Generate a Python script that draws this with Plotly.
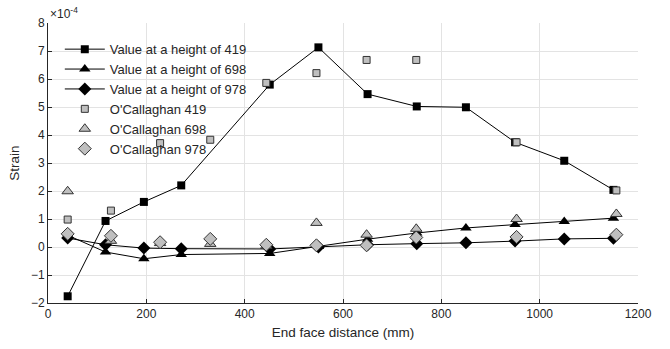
import plotly.graph_objects as go

# Model results (strain, in units of 1e-4)
x_model = [40, 117, 195, 271, 451, 550, 650, 750, 850, 950, 1050, 1150]
h419 = [-1.76, 0.93, 1.61, 2.20, 5.80, 7.13, 5.46, 5.02, 4.99, 3.74, 3.08, 2.04]
h698 = [0.42, -0.18, -0.42, -0.27, -0.23, 0.02, 0.28, 0.50, 0.68, 0.80, 0.91, 1.03]
h978 = [0.32, 0.08, -0.04, -0.06, -0.07, 0.00, 0.08, 0.12, 0.15, 0.21, 0.29, 0.31]

# O'Callaghan measurements
x_oc = [40, 128, 228, 330, 444, 546, 648, 749, 953, 1156]
oc419 = [0.98, 1.30, 3.71, 3.83, 5.86, 6.21, 6.68, 6.68, 3.74, 2.02]
oc698 = [1.99, 0.22, 0.14, 0.11, 0.04, 0.86, 0.44, 0.65, 1.00, 1.18]
oc978 = [0.47, 0.40, 0.17, 0.29, 0.08, 0.06, 0.06, 0.34, 0.36, 0.44]

x_ticks = [0, 200, 400, 600, 800, 1000, 1200]
y_ticks = [-2, -1, 0, 1, 2, 3, 4, 5, 6, 7, 8]

FONT = "Arial"
TXT = "#262626"

fig = go.Figure()
line_style = dict(color="black", width=1)
fig.add_trace(go.Scatter(x=x_model, y=h419, mode="lines+markers", name="Value at a height of 419",
                         line=line_style, marker=dict(symbol="square", size=8, color="black")))
fig.add_trace(go.Scatter(x=x_model, y=h698, mode="lines+markers", name="Value at a height of 698",
                         line=line_style, marker=dict(symbol="triangle-up", size=10, color="black")))
fig.add_trace(go.Scatter(x=x_model, y=h978, mode="lines+markers", name="Value at a height of 978",
                         line=line_style, marker=dict(symbol="diamond", size=10, color="black")))
grey = dict(color="#bfbfbf", line=dict(color="#333333", width=1))
fig.add_trace(go.Scatter(x=x_oc, y=oc419, mode="markers", name="O'Callaghan 419",
                         marker=dict(symbol="square", size=7, **grey)))
fig.add_trace(go.Scatter(x=x_oc, y=oc698, mode="markers", name="O'Callaghan 698",
                         marker=dict(symbol="triangle-up", size=10, **grey)))
fig.add_trace(go.Scatter(x=x_oc, y=oc978, mode="markers", name="O'Callaghan 978",
                         marker=dict(symbol="diamond", size=10, **grey)))

axis_common = dict(showgrid=True, gridcolor="#e3e3e3", gridwidth=1, zeroline=False,
                   showline=True, linecolor=TXT, linewidth=1, ticks="inside", ticklen=4,
                   tickcolor=TXT, tickfont=dict(family=FONT, size=12, color=TXT), mirror=False)

fig.update_layout(
    width=670, height=349,
    margin=dict(l=48, r=32, t=23, b=46),
    plot_bgcolor="white", paper_bgcolor="white",
    font=dict(family=FONT, size=12, color=TXT),
    xaxis=dict(range=[0, 1200], tickvals=x_ticks, title=dict(text="End face distance (mm)",
               font=dict(size=13.5, family=FONT, color=TXT), standoff=7), **axis_common),
    yaxis=dict(range=[-2, 8], tickvals=y_ticks, title=dict(text="Strain",
               font=dict(size=13.5, family=FONT, color=TXT), standoff=8), **axis_common),
    legend=dict(x=0.02, y=0.96, xanchor="left", yanchor="top", bgcolor="rgba(255,255,255,0)",
                font=dict(family=FONT, size=13, color=TXT), itemwidth=40, tracegroupgap=0),
    showlegend=True,
)
fig.add_annotation(text="\u00d710<sup>-4</sup>", xref="paper", yref="paper", x=0, y=1,
                   xanchor="left", yanchor="bottom", showarrow=False,
                   font=dict(family=FONT, size=12, color=TXT))

fig.write_html("out.html")
